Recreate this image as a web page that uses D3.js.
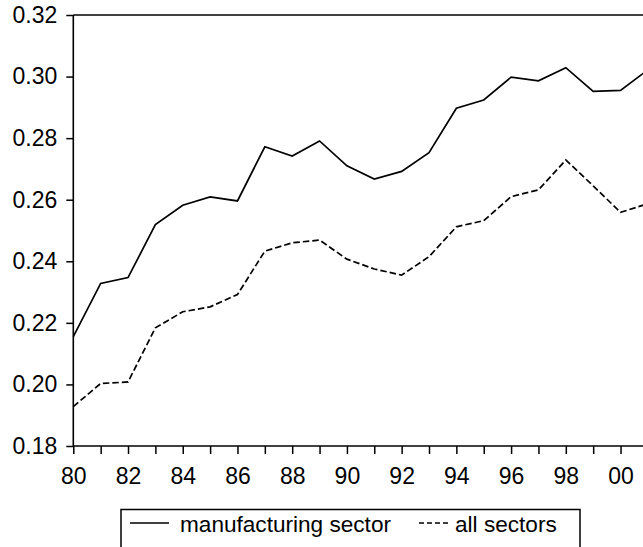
<!DOCTYPE html>
<html>
<head>
<meta charset="utf-8">
<script src="https://cdn.jsdelivr.net/npm/d3@7"></script>
<style>
  html, body { margin: 0; padding: 0; background: #fff; }
  svg { display: block; }
  text { font-family: "Liberation Sans", Arial, Helvetica, sans-serif; fill: #000; }
</style>
</head>
<body>
<svg id="chart" width="643" height="547"></svg>
<script>
// Years covered by the series
const years = [1980, 1981, 1982, 1983, 1984, 1985, 1986, 1987, 1988, 1989, 1990,
               1991, 1992, 1993, 1994, 1995, 1996, 1997, 1998, 1999, 2000, 2001];

// Manufacturing sector
const manufacturing = [0.2155, 0.2328, 0.2347, 0.2519, 0.2582, 0.2609, 0.2596, 0.2772, 0.2742, 0.2791, 0.2710,
                       0.2667, 0.2692, 0.2753, 0.2897, 0.2924, 0.2998, 0.2986, 0.3029, 0.2952, 0.2955, 0.3022];

// All sectors
const allSectors = [0.1928, 0.2003, 0.2008, 0.2184, 0.2236, 0.2252, 0.2292, 0.2433, 0.2460, 0.2469, 0.2407,
                    0.2375, 0.2355, 0.2415, 0.2512, 0.2532, 0.2610, 0.2632, 0.2729, 0.2645, 0.2559, 0.2587];

// Axis ticks
const yTicks = [0.18, 0.20, 0.22, 0.24, 0.26, 0.28, 0.30, 0.32];
const xTickLabels = ["80", "82", "84", "86", "88", "90", "92", "94", "96", "98", "00"];

const legendLabels = ["manufacturing sector", "all sectors"];

const svg = d3.select("#chart");
const FONT = 23;

const x = d3.scaleLinear().domain([1980, 2001]).range([73.3, 647.9]);
const y = d3.scaleLinear().domain([0.18, 0.32]).range([446, 15]);

// Y axis
const yAxis = svg.append("g")
  .attr("transform", `translate(${x(1980)},0)`)
  .call(d3.axisLeft(y).tickValues(yTicks).tickFormat(d3.format(".2f")).tickSize(7).tickPadding(9).tickSizeOuter(0));

// X axis: a tick every year, a label every other year
const labelled = new Map(xTickLabels.map((l, i) => [1980 + 2 * i, l]));
const xAxis = svg.append("g")
  .attr("transform", `translate(0,${y(0.18)})`)
  .call(d3.axisBottom(x).tickValues(years).tickFormat(d => labelled.get(d) || "").tickSize(8).tickPadding(14).tickSizeOuter(0));

[yAxis, xAxis].forEach(g => {
  g.attr("font-size", FONT).attr("font-family", null);
  g.selectAll("path.domain").attr("stroke", "#000").attr("stroke-width", 1.6);
  g.selectAll(".tick line").attr("stroke", "#000").attr("stroke-width", 1.5);
  g.selectAll(".tick text").attr("fill", "#000");
});
yAxis.selectAll("path.domain").attr("d", `M0,${y(0.32)}V${y(0.18)}`);
xAxis.selectAll("path.domain").attr("d", `M${x(1980)},0H643`);

// Top frame line
svg.append("line")
  .attr("x1", x(1980)).attr("x2", 643)
  .attr("y1", y(0.32)).attr("y2", y(0.32))
  .attr("stroke", "#000").attr("stroke-width", 1.6);

// Series lines
const line = d3.line().x((d, i) => x(years[i])).y(d => y(d));

svg.append("path")
  .datum(manufacturing)
  .attr("d", line)
  .attr("fill", "none").attr("stroke", "#000").attr("stroke-width", 1.7);

svg.append("path")
  .datum(allSectors)
  .attr("d", line)
  .attr("fill", "none").attr("stroke", "#000").attr("stroke-width", 1.7)
  .attr("stroke-dasharray", "6.5,3");

// Legend box
const legend = svg.append("g");
legend.append("rect")
  .attr("x", 121).attr("y", 509.5)
  .attr("width", 459).attr("height", 60)
  .attr("fill", "none").attr("stroke", "#000").attr("stroke-width", 1.5);

legend.append("line")
  .attr("x1", 130).attr("x2", 169).attr("y1", 523).attr("y2", 523)
  .attr("stroke", "#000").attr("stroke-width", 1.5);
legend.append("text")
  .attr("x", 180).attr("y", 532).attr("font-size", 22.6)
  .text(legendLabels[0]);

legend.append("line")
  .attr("x1", 419).attr("x2", 449).attr("y1", 523).attr("y2", 523)
  .attr("stroke", "#000").attr("stroke-width", 1.5)
  .attr("stroke-dasharray", "5,3");
legend.append("text")
  .attr("x", 455).attr("y", 532).attr("font-size", 22.6)
  .text(legendLabels[1]);
</script>
</body>
</html>
